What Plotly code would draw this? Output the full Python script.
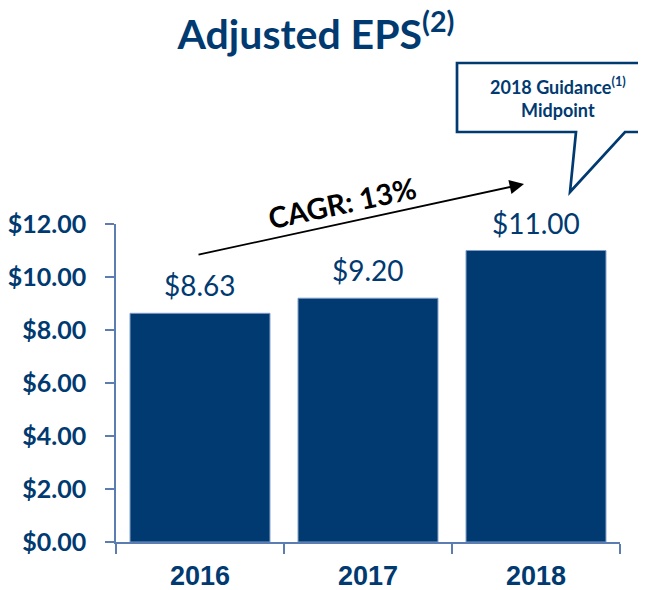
import plotly.graph_objects as go

years = ["2016", "2017", "2018"]
eps = [8.63, 9.20, 11.00]
value_labels = ["$8.63", "$9.20", "$11.00"]
y_ticks = [0, 2, 4, 6, 8, 10, 12]
y_tick_labels = ["$0.00", "$2.00", "$4.00", "$6.00", "$8.00", "$10.00", "$12.00"]
title_text = "Adjusted EPS<sup>(2)</sup>"
cagr_text = "CAGR: 13%"
callout_text = "2018 Guidance<sup>(1)</sup><br>Midpoint"

NAVY = "#003A70"
AXIS = "#5B7DB1"

OFF = 8  # page body margin
W, H = 646, 590
L, T = 116 - OFF, 224 - OFF
R = W - (620 - OFF)
B = H - (542 - OFF)
PW, PH = W - L - R, H - T - B


def xp(px):
    return (px - OFF - L) / PW


def yp(py):
    return (H - B - (py - OFF)) / PH


fig = go.Figure()
fig.add_trace(go.Bar(
    x=years, y=eps,
    marker=dict(color=NAVY, line=dict(color="#7F9CC8", width=1)),
    cliponaxis=False, hoverinfo="skip",
))

# value labels: category index positions on the category axis
for i, (v, lab) in enumerate(zip(eps, value_labels)):
    fig.add_annotation(x=i, y=v, xref="x", yref="y", text=lab, showarrow=False,
                       xanchor="center", yanchor="bottom", yshift=9,
                       font=dict(family="Lato", size=28, color=NAVY))

fig.update_layout(
    width=W, height=H,
    margin=dict(l=L, r=R, t=T, b=B, autoexpand=False),
    plot_bgcolor="white", paper_bgcolor="white",
    bargap=0.167, showlegend=False,
    title=dict(text=title_text, x=(316 - OFF) / W, xanchor="center", xref="container",
               y=1 - (35 - OFF) / H, yanchor="middle", yref="container",
               font=dict(family="Lato", size=41, color=NAVY, weight="bold")),
    xaxis=dict(type="category", categoryorder="array", categoryarray=years,
               showline=True, linecolor=AXIS, linewidth=1.5, ticks="outside",
               tickson="boundaries",
               ticklen=10, tickcolor=AXIS, tickwidth=1.5, showgrid=False, automargin=False,
               tickfont=dict(family="Liberation Sans", size=27, color=NAVY, weight="bold"),
               ticklabelstandoff=9),
    yaxis=dict(range=[0, 12], tickvals=y_ticks, ticktext=y_tick_labels, showline=True, linecolor=AXIS,
               linewidth=1.5, ticks="outside", ticklen=9, tickcolor=AXIS, tickwidth=1.5, showgrid=False,
               zeroline=False, automargin=False,
               tickfont=dict(family="Lato", size=25, color=NAVY, weight="bold"),
               ticklabelstandoff=14),
)

# CAGR arrow
fig.add_annotation(x=xp(524), y=yp(184), xref="paper", yref="paper", text="", showarrow=True,
                   ax=197 - 524, ay=255 - 184, axref="pixel", ayref="pixel",
                   arrowhead=2, arrowsize=1.6, arrowwidth=1.8, arrowcolor="black")
fig.add_annotation(x=xp(342), y=yp(203), xref="paper", yref="paper", text=cagr_text, showarrow=False,
                   xanchor="center", yanchor="middle",
                   textangle=-12, font=dict(family="Lato", size=29, color="black", weight="bold"))

# Callout box
pts = [(670, 63), (457, 63), (457, 132), (576, 132), (570, 192), (625, 132), (670, 132)]
path = "M " + " L ".join(f"{xp(a):.4f},{yp(b):.4f}" for a, b in pts)
fig.add_shape(type="path", path=path, xref="paper", yref="paper",
              line=dict(color=NAVY, width=2.7), fillcolor="rgba(0,0,0,0)")
fig.add_annotation(x=xp(558), y=yp(97), xref="paper", yref="paper", text=callout_text, showarrow=False,
                   xanchor="center", yanchor="middle",
                   font=dict(family="Lato", size=18, color=NAVY, weight="bold"), align="center")

fig.write_html("out.html")
